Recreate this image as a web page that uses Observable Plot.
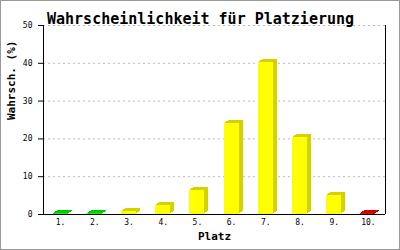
<!DOCTYPE html>
<html>
<head>
<meta charset="utf-8">
<script src="https://cdn.jsdelivr.net/npm/d3@7"></script>
<script src="https://cdn.jsdelivr.net/npm/@observablehq/plot@0.6"></script>
<style>
  html, body { margin: 0; padding: 0; background: #fff; }
  #chart svg { display: block; outline: 1px solid #9a9a9a; outline-offset: -1px; }
</style>
</head>
<body>
<div id="chart"></div>
<script>
// Data
const places = [1, 2, 3, 4, 5, 6, 7, 8, 9, 10];
const probabilities = [0.15, 0.3, 0.8, 2.5, 6.3, 24.2, 40.2, 20.4, 5.0, 0.15];
const yTicks = [0, 10, 20, 30, 40, 50];
const title = "Wahrscheinlichkeit für Platzierung";
const xLabel = "Platz";
const yLabel = "Wahrsch. (%)";

const data = places.map((p, i) => ({platz: p, value: probabilities[i]}));

const frontColor = d => d.platz <= 2 ? "#00ff00" : d.platz === 10 ? "#ff0000" : "#ffff00";
const sideColor  = d => d.platz <= 2 ? "#00c800" : d.platz === 10 ? "#c80000" : "#d2d200";

const mono = "'DejaVu Sans Mono', 'Liberation Mono', monospace";
const inset = 9.6;
const depth = [[4, -3], [3, -2], [2, -2], [1, -1]];

const barLayer = (dx, dy, fill) => Plot.rectY(data, {
  x1: d => d.platz - 0.5, x2: d => d.platz + 0.5,
  y1: 0, y2: "value",
  insetLeft: inset, insetRight: inset,
  dx, dy, fill, shapeRendering: "crispEdges"
});

const plot = Plot.plot({
  width: 400,
  height: 250,
  marginTop: 25,
  marginBottom: 36,
  marginLeft: 43,
  marginRight: 15,
  style: {background: "#fff", fontFamily: mono},
  x: {domain: [0.5, 10.5], axis: null},
  y: {domain: [0, 50], axis: null},
  marks: [
    Plot.gridY(yTicks, {stroke: "#bbbbbb", strokeOpacity: 1, strokeDasharray: "2,3"}),
    ...depth.map(([dx, dy]) => barLayer(dx, dy, sideColor)),
    barLayer(0, 0, frontColor),
    Plot.ruleX([0.5, 10.5], {y1: 0, y2: 50, stroke: "#000"}),
    Plot.ruleY([0], {stroke: "#000"}),
    Plot.axisY(yTicks, {anchor: "left", tickSize: 5, tickPadding: 6, fontSize: 8, fontFamily: mono, stroke: "#000", fill: "#000", label: null}),
    Plot.axisX(places, {anchor: "bottom", tickSize: 0, tickPadding: 5, fontSize: 8, fontFamily: mono, fill: "#000", tickFormat: d => d + ".", label: null}),
    Plot.text([title], {frameAnchor: "top", dx: -14, dy: -12, fontSize: 15, fontWeight: "bold", fontFamily: mono, fill: "#000"}),
    Plot.text([xLabel], {frameAnchor: "bottom", dy: 25, fontSize: 11, fontWeight: "bold", fontFamily: mono, fill: "#000"}),
    Plot.text([yLabel], {frameAnchor: "left", dx: -32.5, rotate: -90, fontSize: 11, fontWeight: "bold", fontFamily: mono, fill: "#000"})
  ]
});
document.getElementById("chart").append(plot);
</script>
</body>
</html>
